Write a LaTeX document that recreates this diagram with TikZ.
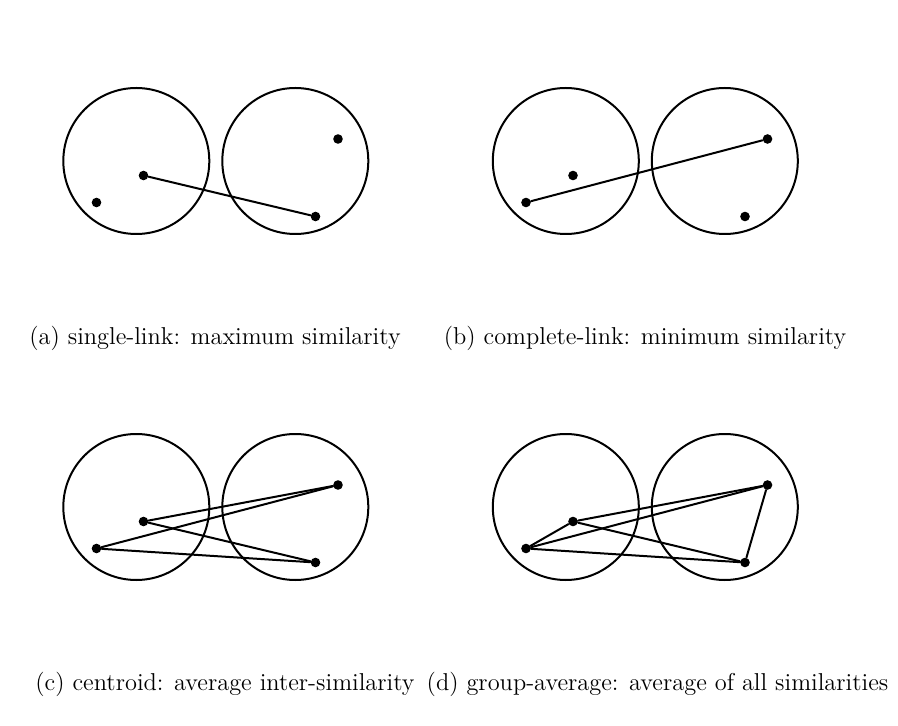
\documentclass[tikz,border=0pt]{standalone}

\begin{document}
\begin{tikzpicture}[x=0.5pt,y=-0.5pt,line cap=round,line join=round,
  cluster/.style={circle,draw,line width=1pt,minimum size=73pt,inner sep=0pt},
  pt/.style={circle,fill,minimum size=4.8pt,inner sep=0pt},
  link/.style={line width=1pt},
  sublabel/.style={anchor=base,inner sep=0pt,font=\fontsize{12.2}{14}\selectfont}]

  \useasboundingbox (0,0) rectangle (898,726);

  % ---- two clusters with four points, once per panel ----
  \foreach \p/\dx/\dy in {a/0/0,b/429.5/0,c/0/346,d/429.5/346}{
    \begin{scope}[shift={(\dx,\dy)}]
      \node[cluster] (\p-l) at (136.3,161) {};
      \node[cluster] (\p-r) at (295.3,161) {};
      \node[pt] (\p-1) at (96.5,202.5) {};
      \node[pt] (\p-2) at (143.5,175.5) {};
      \node[pt] (\p-3) at (338,139) {};
      \node[pt] (\p-4) at (315.5,216.5) {};
    \end{scope}
  }

  % ---- links ----
  % (a) closest pair
  \draw[link] (a-2) -- (a-4);
  % (b) farthest pair
  \draw[link] (b-1) -- (b-3);
  % (c) cross pairs
  \foreach \s/\t in {2/3,2/4,1/3,1/4} { \draw[link] (c-\s) -- (c-\t); }
  % (d) all pairs
  \foreach \s/\t in {1/2,2/3,2/4,1/3,1/4,3/4} { \draw[link] (d-\s) -- (d-\t); }

  % ---- captions ----
  \node[sublabel] (cap-a) at (215,345) {(a) single-link: maximum similarity};
  \node[sublabel] (cap-b) at (645,345) {(b) complete-link: minimum similarity};
  \node[sublabel] (cap-c) at (225,690) {(c) centroid: average inter-similarity};
  \node[sublabel] (cap-d) at (657.5,690) {(d) group-average: average of all similarities};
\end{tikzpicture}
\end{document}
